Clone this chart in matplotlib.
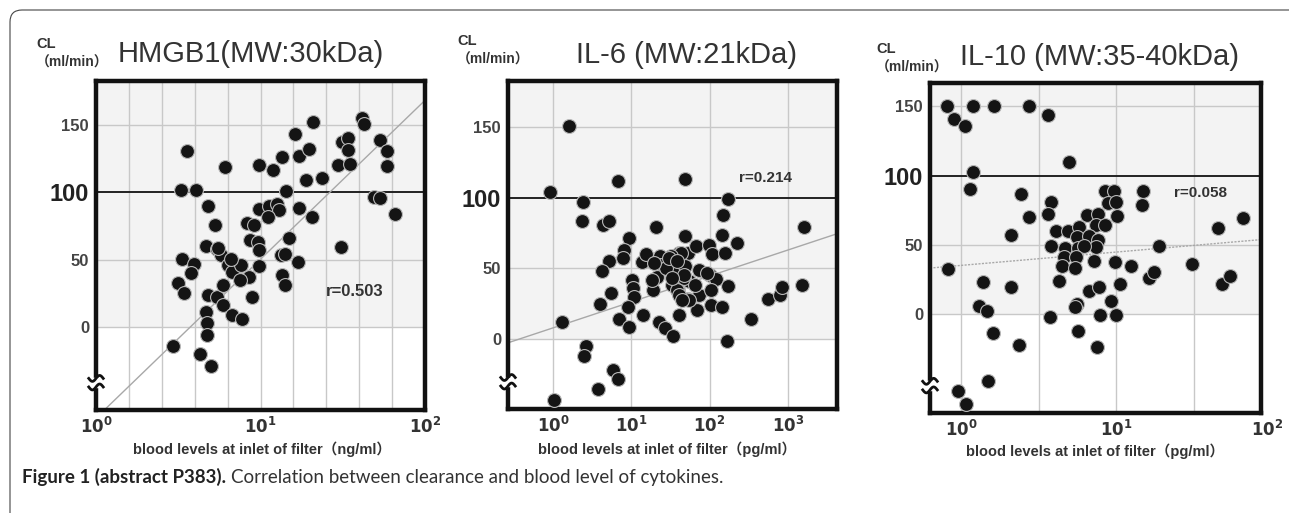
import numpy as np
import matplotlib
matplotlib.use("Agg")
import matplotlib.pyplot as plt
from matplotlib.patches import FancyBboxPatch, Rectangle
from matplotlib.transforms import IdentityTransform

# ---- data ----
hmgb1_x = [3.56, 6.1, 3.29, 4.05, 4.82, 5.29, 8.24, 9.17, 9.84, 11.97, 13.45, 16.3, 17.1, 19.8,
           20.8, 18.9, 23.6, 14.3, 9.84, 11.2, 12.6, 13.0, 11.1, 17.2, 20.5, 14.8, 30.9, 41.2,
           42.4, 31.1, 34.2, 33.9, 29.7, 34.8, 53.2, 58.7, 58.7, 48.8, 53.5, 65.7, 8.63, 9.7,
           4.66, 5.42, 5.75, 3.33, 3.96, 3.78, 3.14, 3.44, 4.77, 5.42, 5.89, 6.31, 6.71, 7.61,
           8.55, 7.5, 5.89, 8.84, 6.71, 7.72, 9.84, 9.84, 13.3, 14.1, 16.8, 13.5, 14.0, 4.66,
           4.71, 4.71, 2.95, 4.29, 5.0, 6.62, 5.52]
hmgb1_y = [131, 119, 101.5, 101.5, 89.6, 75.6, 77.4, 76, 120.7, 116.4, 126.3, 143.5, 127.4, 132.3,
           152.5, 109, 110.7, 101, 88, 90, 91.6, 86.6, 81.6, 88.3, 81.6, 65.9, 59.5, 155.7,
           151.3, 137.8, 140.3, 131.9, 120.1, 120.9, 138.8, 130.6, 119.9, 96.5, 96, 84.3, 64.7, 62.9,
           60, 58.2, 53.7, 50.5, 47, 40, 32.6, 25.1, 23.9, 22.1, 15.9, 46.3, 40.5, 45.7,
           36.8, 35, 31.3, 21.9, 9, 6, 57.5, 45, 53.7, 54.5, 48.3, 38.8, 30.8, 10.7,
           2.8, -6, -14.7, -20.4, -28.9, 50.5, 59]

il6_x = [1.6, 0.9, 2.38, 2.33, 4.34, 5.22, 6.68, 9.23, 20.9, 47.8, 48.2, 172, 148, 143, 226, 1590,
         8.06, 7.9, 5.22, 4.17, 5.43, 3.97, 1.28, 10.1, 10.6, 10.9, 8.97, 7.02, 9.35, 14.1,
         13.6, 15.4, 18.8, 23.4, 23.4, 21.5, 22.2, 27, 33.8, 40.1, 35.2, 32.9, 38.9, 40.1,
         52.7, 47.8, 53.8, 52.7, 67.5, 72.3, 72.3, 68.8, 2.62, 98, 108, 156, 101, 119, 174,
         103, 103, 143, 165, 336, 566, 798, 855, 1511, 46.9, 38.5, 54.3, 93.4, 42.5, 31.6,
         27.3, 19.3, 40.4, 29.8, 38.1, 46.4, 65.5, 44, 32.9, 18.3,
         2.45, 5.82, 6.68, 3.74, 1.01]
il6_y = [151, 104, 97.4, 83.7, 80.9, 83.9, 112.3, 71.4, 79.4, 113.5, 72.6, 99.1, 88, 73.8, 67.9, 79,
         62.6, 57.2, 54.8, 47.7, 32.4, 24.6, 11.8, 41.8, 36, 29.6, 22.2, 14, 8, 16.5,
         54.1, 60.1, 34.8, 58.9, 52.5, 43.8, 11.6, 7.6, 1.6, 60.8, 48.9, 38.3, 34.8, 17,
         60.8, 51.3, 40.6, 28.2, 66, 48.9, 31.2, 20.6, -5.5, 66.7, 60.3, 60.8, 45.4, 42.6, 37.6,
         34.8, 24.1, 22.5, -1.4, 14.2, 28.4, 30.7, 36.4, 37.8, 43, 34.8, 27.7, 46.6, 60.8, 58.4,
         50.1, 53.7, 31.2, 57.2, 54.8, 45.4, 38.3, 27.7, 43, 41.8,
         -12.5, -22.5, -28.4, -35.7, -43.3]

il10_x = [0.81, 0.906, 1.06, 1.19, 1.64, 2.75, 3.66, 1.19, 1.15, 2.44, 5.0, 2.75, 2.11, 3.81, 3.66,
          8.49, 9.75, 8.84, 10, 10.1, 15, 14.8, 45.3, 66.3, 18.9,
          6.53, 7.62, 7.4, 8.49, 4.08, 4.88, 5.74, 5.58, 6.73, 7.69, 3.79, 4.69, 5.71, 7.4, 6.25,
          4.64, 5.5, 7.21, 4.5, 5.44, 9.86, 12.5, 0.82, 1.38, 2.1, 4.31, 6.7, 7.8, 10.6, 16.2,
          17.7, 30.8, 48.1, 54.4, 1.31, 1.47, 5.58, 5.44, 9.29, 3.75, 7.88, 10, 1.62, 2.38,
          5.66, 7.5, 1.5, 0.95, 1.07]
il10_y = [150, 141, 135.5, 150, 150, 150, 143.5, 102.4, 90, 86.7, 110, 70, 57, 80.7, 72.2,
          89, 89, 80.2, 80.7, 71, 89, 78.8, 62.1, 69.1, 49.3,
          71.5, 72.2, 64.5, 64.5, 60.1, 59.6, 62.5, 55.8, 56.5, 53.4, 49.3, 47.3, 47.3, 48, 49.3,
          41.3, 40.8, 38.4, 34.8, 32.8, 37.2, 34.3, 32.4, 23.2, 19.6, 23.4, 16.7, 19.1, 21.5, 25.6,
          29.9, 36, 21.5, 27.5, 5.8, 1.7, 7, 4.6, 9.4, -2.7, -1, -1, -14.3, -22.7,
          -12.3, -24.4, -48.6, -55.8, -65.4]

titles = ["HMGB1(MW:30kDa)", "IL-6 (MW:21kDa)", "IL-10 (MW:35-40kDa)"]
xlabels = ["blood levels at inlet of filter（ng/ml）",
           "blood levels at inlet of filter（pg/ml）",
           "blood levels at inlet of filter（pg/ml）"]
r_labels = ["r=0.503", "r=0.214", "r=0.058"]
fit_intercept = [-68.0, 7.7, 34.9]
fit_slope = [118.3, 18.4, 9.65]

W, H = 1289, 513
fig = plt.figure(figsize=(W / 100, H / 100), dpi=100)


def fx(px):
    return px / W


def fy(py):
    return 1 - py / H


cjk = ['Liberation Sans', 'Noto Sans CJK JP']


def panel(box, xs, ys, xlim, ylim, xgrid, xticks, k):
    left, top, right, bottom = box
    ax = fig.add_axes([fx(left), fy(bottom), fx(right - left), (bottom - top) / H])
    ax.set_xscale('log')
    ax.set_xlim(xlim)
    ax.set_ylim(ylim)
    ax.axhspan(0, ylim[1], color='#f3f3f3', zorder=0, lw=0)
    for g in xgrid:
        ax.axvline(g, color='#c8c8c8', lw=1, zorder=1)
    for g in [0, 50, 150]:
        ax.axhline(g, color='#c8c8c8', lw=1, zorder=1)
    ax.axhline(100, color='#222222', lw=1.4, zorder=2)

    lx = np.array(xlim)
    ax.plot(lx, fit_intercept[k] + fit_slope[k] * np.log10(lx), color='#a8a8a8', lw=1,
            ls='-' if k < 2 else (0, (1.5, 1)), zorder=2)
    ax.scatter(xs, ys, s=100, color='#141414', edgecolor='#b8b8b8', linewidth=0.8, zorder=3)

    for s in ax.spines.values():
        s.set_linewidth(3.2)
        s.set_color('#111111')
    ax.minorticks_off()
    ax.set_yticks([0, 50, 100, 150])
    ax.set_yticklabels(['0', '50', '100', '150'])
    for lab in ax.get_yticklabels():
        if lab.get_text() == '100':
            lab.set_fontsize(17)
            lab.set_color('#222222')
        else:
            lab.set_fontsize(12)
            lab.set_color('#444444')
        lab.set_fontweight('bold')
        lab.set_family('Liberation Sans')
    ax.set_xticks(xticks)
    ax.set_xticklabels([r'$\mathbf{10^{%d}}$' % int(round(np.log10(t))) for t in xticks],
                       fontsize=12, color='#333333')
    ax.tick_params(length=0, pad=5)

    # axis break mark on the left spine
    y0 = 0.083
    ax.add_patch(Rectangle((-0.03, y0 - 0.013), 0.06, 0.026, transform=ax.transAxes,
                           color='white', clip_on=False, zorder=5))
    t = np.linspace(-1, 1, 40)
    for dy in (-0.013, 0.013):
        ax.plot(t * 0.022, y0 + dy + 0.009 * np.sin(np.pi * t), color='#111111', lw=2,
                transform=ax.transAxes, clip_on=False, zorder=6)
    return ax


boxes = [(96, 81, 425, 410), (508, 81, 837, 409), (930, 83, 1261, 413)]
ax1 = panel(boxes[0], hmgb1_x, hmgb1_y, (1, 100), (-62, 183),
            [10 ** (0.2 * i) for i in range(1, 10)], [1, 10, 100], 0)
ax2 = panel(boxes[1], il6_x, il6_y, (10 ** -0.58, 10 ** 3.63), (-50, 183),
            [1, 10, 100, 1000], [1, 10, 100, 1000], 1)
ax3 = panel(boxes[2], il10_x, il10_y, (10 ** -0.2, 10 ** 1.935), (-72, 167),
            [1, 10 ** 0.5, 10, 10 ** 1.5], [1, 10], 2)
# 10^2 sits just past the right edge of the last panel
ax3.annotate(r'$\mathbf{10^{2}}$', xy=(100, 0), xycoords=ax3.get_xaxis_transform(),
             xytext=(-3, -5), textcoords='offset points', ha='center', va='top',
             fontsize=12, color='#333333', annotation_clip=False)

ax1.text(37.5, 26, r_labels[0], fontsize=12, fontweight='bold', color='#333333',
         ha='center', va='center', family='Liberation Sans', zorder=4)
ax2.text(525, 114, r_labels[1], fontsize=11, fontweight='bold', color='#333333',
         ha='center', va='center', family='Liberation Sans', zorder=4)
ax3.text(34.8, 87, r_labels[2], fontsize=11, fontweight='bold', color='#333333',
         ha='center', va='center', family='Liberation Sans', zorder=4)

# titles, unit labels, x labels
title_pos = [(251, 54), (686, 55), (1100, 57)]
cl_pos = [(46, 44), (467, 41), (886, 49)]
unit_pos = [(72, 63), (493, 60), (912, 68)]
xlab_pos = [(262, 449), (667, 449), (1095, 451)]
for i in range(3):
    fig.text(fx(title_pos[i][0]), fy(title_pos[i][1]), titles[i], fontsize=21,
             color='#333333', ha='center', va='center', family='Liberation Sans')
    fig.text(fx(cl_pos[i][0]), fy(cl_pos[i][1]), 'CL', fontsize=10.5, fontweight='bold',
             color='#333333', ha='center', va='center', family='Liberation Sans')
    fig.text(fx(unit_pos[i][0]), fy(unit_pos[i][1]), '（ml/min）', fontsize=10,
             fontweight='bold', color='#333333', ha='center', va='center', family=cjk)
    fig.text(fx(xlab_pos[i][0]), fy(xlab_pos[i][1]), xlabels[i], fontsize=10.5,
             fontweight='bold', color='#333333', ha='center', va='center', family=cjk)

# outer frame (right and bottom edges run off the picture)
fig.add_artist(FancyBboxPatch((10, -30), 1292, 533, boxstyle='round,pad=0,rounding_size=12',
                              transform=IdentityTransform(), fill=False, edgecolor='#444444',
                              lw=0.8))

# caption
cap1 = fig.text(fx(22), fy(477), 'Figure 1 (abstract P383).', fontsize=13.5,
                fontweight='bold', color='#222222', ha='left', va='center', family='Lato')
fig.canvas.draw()
bb = cap1.get_window_extent()
fig.text((bb.x1 + 5) / W, fy(477), 'Correlation between clearance and blood level of cytokines.',
         fontsize=13.5, color='#333333', ha='left', va='center', family='Lato')

fig.savefig('out.png', dpi=100)
